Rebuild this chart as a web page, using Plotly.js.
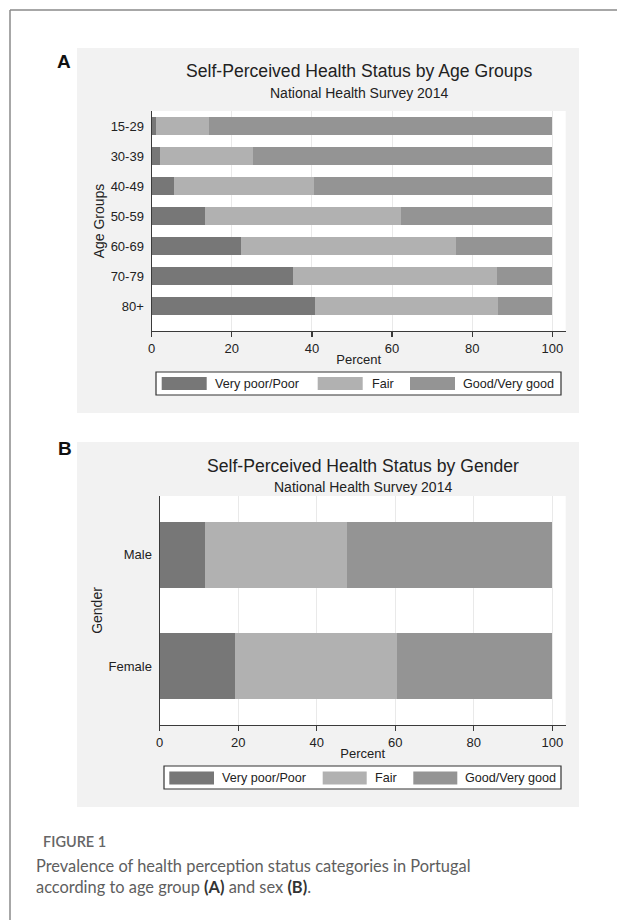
<!DOCTYPE html>
<html>
<head>
<meta charset="utf-8">
<script src="https://cdn.plot.ly/plotly-3.0.1.min.js"></script>
<style>
  html, body { margin: 0; padding: 0; background: #ffffff; }
  #chart { width: 617px; height: 920px; }
</style>
</head>
<body>
<div id="chart"></div>
<script>
// ---------- data ----------
const seriesNames = ['Very poor/Poor', 'Fair', 'Good/Very good'];
const seriesColors = ['#777777', '#b1b1b1', '#949494'];

const ageGroups = ['15-29', '30-39', '40-49', '50-59', '60-69', '70-79', '80+'];
const agePoor = [1.1, 2.0, 5.6, 13.3, 22.3, 35.2, 40.8];
const ageFair = [13.3, 23.3, 35.0, 48.9, 53.6, 51.0, 45.6];
const ageGood = [85.6, 74.7, 59.4, 37.8, 24.1, 13.8, 13.6];

const genders = ['Male', 'Female'];
const genderPoor = [11.5, 19.2];
const genderFair = [36.2, 41.3];
const genderGood = [52.3, 39.5];

const xTicks = [0, 20, 40, 60, 80, 100];

const titleA = 'Self-Perceived Health Status by Age Groups';
const titleB = 'Self-Perceived Health Status by Gender';
const subtitle = 'National Health Survey 2014';
const xTitle = 'Percent';
const yTitleA = 'Age Groups';
const yTitleB = 'Gender';
const captionHead = 'FIGURE 1';
const captionText = 'Prevalence of health perception status categories in Portugal<br>according to age group <b><span style="color:#333">(A)</span></b> and sex <b><span style="color:#333">(B)</span></b>.';

// ---------- geometry helpers (pixels -> paper) ----------
const W = 617, H = 920;
const px = x => x / W;
const py = y => 1 - y / H;
const FONT = 'Liberation Sans, Arial, sans-serif';

// ---------- traces ----------
const ageSeries = [agePoor, ageFair, ageGood];
const genderSeries = [genderPoor, genderFair, genderGood];
const traces = [];
ageSeries.forEach((vals, i) => {
  traces.push({
    type: 'bar', orientation: 'h', name: seriesNames[i],
    x: vals, y: ageGroups, xaxis: 'x', yaxis: 'y',
    marker: { color: seriesColors[i], line: { width: 0 } },
    showlegend: false, hoverinfo: 'x+y+name'
  });
});
genderSeries.forEach((vals, i) => {
  traces.push({
    type: 'bar', orientation: 'h', name: seriesNames[i],
    x: vals, y: genders, xaxis: 'x2', yaxis: 'y2',
    marker: { color: seriesColors[i], line: { width: 0 } },
    showlegend: false, hoverinfo: 'x+y+name'
  });
});

// ---------- layout ----------
const axisFont = { family: FONT, size: 13, color: '#222' };
function xAxis(domain, anchor, range) {
  return {
    domain: domain, anchor: anchor, range: range,
    tickvals: xTicks, ticktext: xTicks.map(String),
    showgrid: true, gridcolor: '#e9e9e9', gridwidth: 1,
    zeroline: false, showline: true, linecolor: '#3a3a3a', linewidth: 1.2,
    ticks: 'outside', ticklen: 5, tickcolor: '#3a3a3a', tickwidth: 1.2,
    tickfont: axisFont,
    title: { text: xTitle, font: { family: FONT, size: 13, color: '#222' }, standoff: 0 },
    fixedrange: true
  };
}
function yAxis(domain, anchor, range, title) {
  return {
    domain: domain, anchor: anchor, range: range, type: 'category',
    showgrid: false, zeroline: false, showline: true, linecolor: '#3a3a3a', linewidth: 1.2,
    ticks: '', tickfont: axisFont, ticklabelstandoff: 4,
    title: { text: title, font: { family: FONT, size: 14, color: '#222' }, standoff: 2 },
    fixedrange: true
  };
}

const shapes = [];
// outer frame (top and left rules)
shapes.push({ type: 'line', xref: 'paper', yref: 'paper', x0: px(10), x1: px(617), y0: py(10), y1: py(10), line: { color: '#8a8a8a', width: 1.5 } });
shapes.push({ type: 'line', xref: 'paper', yref: 'paper', x0: px(10), x1: px(10), y0: py(10), y1: py(920), line: { color: '#8a8a8a', width: 1.5 } });
// panel backgrounds
[[48, 413], [442, 807]].forEach(([t, b]) => {
  shapes.push({ type: 'rect', xref: 'paper', yref: 'paper', layer: 'below', x0: px(77), x1: px(579), y0: py(b), y1: py(t), fillcolor: '#f2f2f2', line: { width: 0 } });
});
// plot-area white backgrounds
shapes.push({ type: 'rect', xref: 'paper', yref: 'paper', layer: 'below', x0: px(151.7), x1: px(565.7), y0: py(331), y1: py(111), fillcolor: '#ffffff', line: { width: 0 } });
shapes.push({ type: 'rect', xref: 'paper', yref: 'paper', layer: 'below', x0: px(159.7), x1: px(565.7), y0: py(725), y1: py(496), fillcolor: '#ffffff', line: { width: 0 } });

const annotations = [];
function txt(text, x, y, size, opts) {
  annotations.push(Object.assign({
    text: text, xref: 'paper', yref: 'paper', x: px(x), y: py(y),
    showarrow: false, xanchor: 'center', yanchor: 'middle',
    font: { family: FONT, size: size, color: '#222' }
  }, opts || {}));
}
// panel letters
txt('<b>A</b>', 64, 62, 19, { font: { family: FONT, size: 19, color: '#111' } });
txt('<b>B</b>', 65, 448, 19, { font: { family: FONT, size: 19, color: '#111' } });
// titles
txt(titleA, 358.7, 71, 17.6);
txt(subtitle, 358.7, 93, 14);
txt(titleB, 362.7, 466, 17.6);
txt(subtitle, 362.7, 487, 14);

// custom legends (Stata style wide swatches)
function legend(box, swatches, textX, yc) {
  shapes.push({ type: 'rect', xref: 'paper', yref: 'paper', x0: px(box[0]), x1: px(box[1]), y0: py(box[3]), y1: py(box[2]), fillcolor: '#ffffff', line: { color: '#333', width: 1.2 } });
  swatches.forEach((s, i) => {
    shapes.push({ type: 'rect', xref: 'paper', yref: 'paper', x0: px(s[0]), x1: px(s[1]), y0: py(yc + 6.5), y1: py(yc - 6.5), fillcolor: seriesColors[i], line: { width: 0 } });
    txt(seriesNames[i], textX[i], yc, 12.6, { xanchor: 'left' });
  });
}
legend([156, 561, 372, 395], [[161.7, 206.7], [317.7, 362.7], [410, 455]], [213, 370, 461], 383.5);
legend([164, 561, 766, 789], [[169.3, 214], [322.7, 366.7], [413.3, 457.3]], [220, 373, 463], 778);

// caption
txt(captionHead, 41, 841, 14.5, { xanchor: 'left', font: { family: 'Lato, Open Sans, sans-serif', size: 14.5, color: '#666', weight: 600 } });
txt(captionText, 34, 876, 16.4, { xanchor: 'left', align: 'left', font: { family: 'Lato, Open Sans, sans-serif', size: 16.4, color: '#5e5e5e' } });

const layout = {
  width: W, height: H,
  margin: { l: 0, r: 0, t: 0, b: 0, pad: 0 },
  paper_bgcolor: '#ffffff', plot_bgcolor: 'rgba(0,0,0,0)',
  barmode: 'stack', bargap: 0.4,
  showlegend: false,
  xaxis: xAxis([px(151.7), px(565.7)], 'y', [0, 103.35]),
  yaxis: yAxis([py(331), py(111)], 'x', [6.833, -0.5], yTitleA),
  xaxis2: xAxis([px(159.7), px(565.7)], 'y2', [0, 103.4]),
  yaxis2: yAxis([py(725), py(496)], 'x2', [1.53, -0.53], yTitleB),
  shapes: shapes,
  annotations: annotations
};

Plotly.newPlot('chart', traces, layout, { displayModeBar: false, staticPlot: true });
</script>
</body>
</html>
